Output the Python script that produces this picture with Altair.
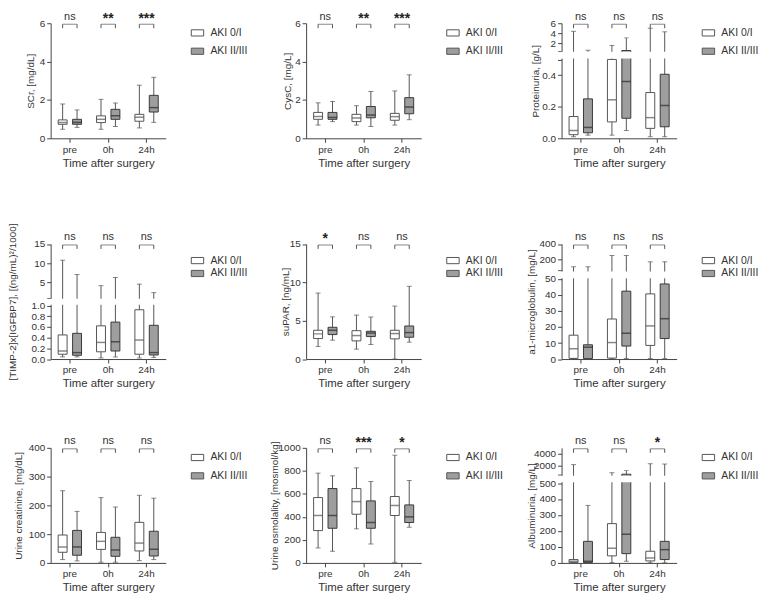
import altair as alt
import pandas as pd

times = ["pre", "0h", "24h"]
groups = ["AKI 0/I", "AKI II/III"]

# Box statistics, order: pre 0/I, pre II/III, 0h 0/I, 0h II/III, 24h 0/I, 24h II/III
scr_lo = [0.47, 0.57, 0.47, 0.61, 0.54, 0.83]
scr_q1 = [0.73, 0.73, 0.82, 0.99, 0.89, 1.37]
scr_med = [0.83, 0.83, 0.99, 1.17, 1.10, 1.60]
scr_q3 = [0.96, 0.99, 1.17, 1.51, 1.25, 2.24]
scr_hi = [1.79, 1.48, 2.03, 1.84, 2.77, 3.18]
scr_sig = ["ns", "**", "***"]
scr_ticks = [0, 2, 4, 6]
scr_labels = ["0", "2", "4", "6"]

cys_lo = [0.69, 0.87, 0.69, 0.62, 0.69, 0.97]
cys_q1 = [0.99, 0.99, 0.87, 1.07, 0.94, 1.28]
cys_med = [1.14, 1.09, 1.06, 1.21, 1.13, 1.63]
cys_q3 = [1.35, 1.35, 1.25, 1.66, 1.30, 2.12]
cys_hi = [1.85, 1.92, 1.70, 2.44, 2.47, 3.31]
cys_sig = ["ns", "**", "***"]
cys_ticks = [0, 2, 4, 6]
cys_labels = ["0", "2", "4", "6"]

prot_lo = [0.01, 0.02, 0.02, 0.05, 0.01, 0.01]
prot_q1 = [0.023, 0.035, 0.104, 0.127, 0.063, 0.073]
prot_med = [0.05, 0.069, 0.244, 0.36, 0.131, 0.208]
prot_q3 = [0.138, 0.25, 0.5, 0.6, 0.29, 0.406]
prot_hi = [4.4, 0.65, 1.6, 3.1, 5.0, 4.3]
prot_sig = ["ns", "ns", "ns"]
prot_ticks = [0, 0.2, 0.4, 0.5, 0.50001, 2, 4, 6]
prot_labels = ["0.0", "0.2", "0.4", "", "", "2", "4", "6"]

timp_lo = [0.04, 0.04, 0.02, 0.04, 0.02, 0.03]
timp_q1 = [0.09, 0.07, 0.135, 0.15, 0.09, 0.075]
timp_med = [0.15, 0.12, 0.31, 0.325, 0.355, 0.12]
timp_q3 = [0.45, 0.48, 0.62, 0.69, 0.92, 0.63]
timp_hi = [10.8, 7.1, 4.2, 6.3, 4.6, 2.4]
timp_sig = ["ns", "ns", "ns"]
timp_ticks = [0, 0.2, 0.4, 0.6, 0.8, 1, 1.0001, 5, 10, 15]
timp_labels = ["0.0", "0.2", "0.4", "0.6", "0.8", "1.0", "", "5", "10", "15"]

supar_lo = [1.64, 2.46, 1.29, 1.9, 0.0, 2.2]
supar_q1 = [2.67, 3.19, 2.37, 2.93, 2.63, 2.84]
supar_med = [3.28, 3.75, 3.06, 3.4, 3.32, 3.45]
supar_q3 = [3.75, 4.14, 3.7, 3.62, 3.75, 4.31]
supar_hi = [8.6, 5.5, 5.73, 5.47, 6.9, 9.48]
supar_sig = ["*", "ns", "ns"]
supar_ticks = [0, 5, 10, 15]
supar_labels = ["0", "5", "10", "15"]

a1m_lo = [0.3, 0.3, 0.3, 0.3, 0.3, 0.3]
a1m_q1 = [0.4, 0.3, 0.6, 8.1, 8.5, 12.8]
a1m_med = [6.4, 7.4, 10.3, 16.1, 20.7, 25.2]
a1m_q3 = [14.9, 8.9, 25.0, 42.4, 40.7, 46.9]
a1m_hi = [100, 100, 248, 248, 165, 165]
a1m_sig = ["ns", "ns", "ns"]
a1m_ticks = [0, 10, 20, 30, 40, 50, 50.001, 200, 400]
a1m_labels = ["0", "10", "20", "30", "40", "50", "", "200", "400"]

ucr_lo = [11.6, 7, 2.3, 2, 8, 11.6]
ucr_q1 = [37, 26.6, 47, 23, 41.6, 24]
ucr_med = [55.5, 55.5, 75, 45, 69, 47.4]
ucr_q3 = [97, 113, 106, 89, 141, 110]
ucr_hi = [251, 179, 227, 194, 235, 225]
ucr_sig = ["ns", "ns", "ns"]
ucr_ticks = [0, 100, 200, 300, 400]
ucr_labels = ["0", "100", "200", "300", "400"]

uos_lo = [130, 101, 296, 165, 5, 310]
uos_q1 = [281, 301, 423, 301, 412, 351]
uos_med = [412, 412, 533, 351, 499, 400]
uos_q3 = [568, 646, 646, 539, 577, 504]
uos_hi = [780, 757, 826, 707, 936, 716]
uos_sig = ["ns", "***", "*"]
uos_ticks = [0, 200, 400, 600, 800, 1000]
uos_labels = ["0", "200", "400", "600", "800", "1000"]

alb_lo = [0.5, 0.5, 2, 10, 0.5, 0.5]
alb_q1 = [2, 2, 44, 58, 12.5, 21]
alb_med = [10, 10.4, 92, 179, 31, 83]
alb_q3 = [21, 135, 246, 600, 73, 135]
alb_hi = [2200, 360, 850, 1200, 2350, 2300]
alb_sig = ["ns", "ns", "*"]
alb_ticks = [0, 100, 200, 300, 400, 500, 500.01, 2000, 4000]
alb_labels = ["0", "100", "200", "300", "400", "500", "", "2000", "4000"]

# ---------------- layout / style ----------------
W = 116
H = 116
ROW_OFFSET = [0, 17.5, 0]
LEGEND_Y = [2.75, 9.75, 2.75]
LEGEND_ROWPAD = [5.5, -2, 5.5]
NARROW = "Liberation Sans Narrow, Arial Narrow, Liberation Sans, Arial, sans-serif"
REG = "Liberation Sans, Arial, sans-serif"
LINE = "#555555"
DARK = "#3a3a3a"
TXT = "#333333"
GRAY_FILL = "#9e9e9e"

panels = [
    dict(title="SCr, [mg/dL]", d=(scr_lo, scr_q1, scr_med, scr_q3, scr_hi), sig=scr_sig,
         ticks=scr_ticks, labels=scr_labels, domain=[0, 6], rng=[H, 0], gap=None, tx=-20),
    dict(title="CysC, [mg/L]", d=(cys_lo, cys_q1, cys_med, cys_q3, cys_hi), sig=cys_sig,
         ticks=cys_ticks, labels=cys_labels, domain=[0, 6], rng=[H, 0], gap=None, tx=-19),
    dict(title="Proteinuria, [g/L]", d=(prot_lo, prot_q1, prot_med, prot_q3, prot_hi), sig=prot_sig,
         ticks=prot_ticks, labels=prot_labels, domain=[0, 0.5, 0.50001, 6], rng=[H, 36.5, 28, 0],
         gap=(0.500001, 0.500009), tx=-26),
    dict(title="[TIMP-2]x[IGFBP7], [(ng/mL)²/1000]", d=(timp_lo, timp_q1, timp_med, timp_q3, timp_hi),
         sig=timp_sig, ticks=timp_ticks, labels=timp_labels, domain=[0, 1, 1.0001, 15],
         rng=[H, 62, 54.5, 0], gap=(1.00001, 1.00009), tx=-38),
    dict(title="suPAR, [ng/mL]", d=(supar_lo, supar_q1, supar_med, supar_q3, supar_hi), sig=supar_sig,
         ticks=supar_ticks, labels=supar_labels, domain=[0, 15], rng=[H, 0], gap=None, tx=-21),
    dict(title="a1-microglobulin, [mg/L]", d=(a1m_lo, a1m_q1, a1m_med, a1m_q3, a1m_hi), sig=a1m_sig,
         ticks=a1m_ticks, labels=a1m_labels, domain=[0, 50, 50.001, 400], rng=[H, 35.3, 26.8, 0],
         gap=(50.0001, 50.0009), tx=-30),
    dict(title="Urine creatinine, [mg/dL]", d=(ucr_lo, ucr_q1, ucr_med, ucr_q3, ucr_hi), sig=ucr_sig,
         ticks=ucr_ticks, labels=ucr_labels, domain=[0, 400], rng=[H, 0], gap=None, tx=-32),
    dict(title="Urine osmolality, [mosmol/kg]", d=(uos_lo, uos_q1, uos_med, uos_q3, uos_hi), sig=uos_sig,
         ticks=uos_ticks, labels=uos_labels, domain=[0, 1000], rng=[H, 0], gap=None, tx=-32),
    dict(title="Albuminuria, [mg/L]", d=(alb_lo, alb_q1, alb_med, alb_q3, alb_hi), sig=alb_sig,
         ticks=alb_ticks, labels=alb_labels, domain=[0, 500, 500.01, 5000], rng=[H, 35.5, 27.2, 0],
         gap=(500.001, 500.009), tx=-30),
]


def js_num(v):
    v = float(v)
    return str(int(v)) if v.is_integer() else repr(v)


def label_expr(vals, labs):
    expr = "''"
    for v, l in reversed(list(zip(vals, labs))):
        expr = f"datum.value == {js_num(v)} ? '{l}' : ({expr})"
    return expr


def make_panel(p, row):
    o = ROW_OFFSET[row]
    lo, q1, med, q3, hi = p["d"]
    stats = pd.DataFrame({
        "time": [t for t in times for g in groups],
        "group": [g for t in times for g in groups],
        "lo": lo, "q1": q1, "med": med, "q3": q3, "hi": hi,
    })
    sigdf = pd.DataFrame({"time": times, "sig": p["sig"]})

    yscale = alt.Scale(domain=p["domain"], range=[r + o for r in p["rng"]], nice=False, zero=False)
    yaxis = alt.Axis(values=p["ticks"], labelExpr=label_expr(p["ticks"], p["labels"]),
                     title=p["title"], titleX=p["tx"], titleBaseline="middle",
                     labelOverlap=False, grid=False)

    def Y(field):
        return alt.Y(field, type="quantitative", scale=yscale, axis=yaxis)

    xaxis = alt.Axis(title="Time after surgery", labelAngle=0, grid=False)
    xenc = alt.X("time:N", scale=alt.Scale(domain=times, paddingInner=0, paddingOuter=0), axis=xaxis)
    xoff = alt.XOffset("group:N", scale=alt.Scale(domain=groups, paddingInner=0.38, paddingOuter=0.52))
    is_low = alt.datum.group == groups[0]

    base = alt.Chart(stats)
    whisk = base.mark_rule(color=LINE, strokeWidth=1).encode(x=xenc, xOffset=xoff, y=Y("lo"), y2="hi")
    cap_hi = base.mark_tick(orient="horizontal", size=5, thickness=1, color=LINE).encode(
        x=xenc, xOffset=xoff, y=Y("hi"))
    cap_lo = base.mark_tick(orient="horizontal", size=5, thickness=1, color=LINE).encode(
        x=xenc, xOffset=xoff, y=Y("lo"))
    box = base.mark_bar(strokeWidth=1).encode(
        x=xenc, xOffset=xoff, y=Y("q1"), y2="q3",
        fill=alt.Fill("group:N", scale=alt.Scale(domain=groups, range=["#ffffff", GRAY_FILL]),
                      legend=alt.Legend(title=None, orient="none", legendX=141,
                                        legendY=o + LEGEND_Y[row],
                                        symbolType="M-1,-0.5H1V0.5H-1Z", symbolSize=156,
                                        symbolStrokeColor=LINE, symbolStrokeWidth=1,
                                        labelFontSize=10.5, labelFont=NARROW, labelColor=TXT,
                                        labelOffset=6, rowPadding=LEGEND_ROWPAD[row], padding=0)),
        stroke=alt.condition(is_low, alt.value(LINE), alt.value(DARK)),
    )
    median = base.mark_tick(orient="horizontal", size=9, thickness=1.5).encode(
        x=xenc, xOffset=xoff, y=Y("med"),
        color=alt.condition(is_low, alt.value(LINE), alt.value("#2a2a2a")),
    )
    layers = [whisk, box, median, cap_hi, cap_lo]

    if p["gap"] is not None:
        mask = alt.Chart(pd.DataFrame({"k": [0]})).mark_rect(color="white").encode(
            x=alt.value(-6), x2=alt.value(W + 2),
            y=alt.Y(datum=p["gap"][0], type="quantitative", scale=yscale, axis=yaxis),
            y2=alt.Y2(datum=p["gap"][1]),
        )
        layers.append(mask)

    sbase = alt.Chart(sigdf)
    bracket = sbase.mark_tick(orient="horizontal", size=14.5, thickness=1, color=LINE).encode(
        x=xenc, y=alt.value(o + 1))
    legs = base.mark_rule(color=LINE, strokeWidth=1).encode(
        x=xenc, xOffset=xoff, y=alt.value(o + 1), y2=alt.value(o + 5))
    ns = sbase.transform_filter("datum.sig == 'ns'").mark_text(
        font=NARROW, fontSize=11, color=TXT, baseline="alphabetic").encode(
        x=xenc, y=alt.value(o - 3.5), text="sig:N")
    stars = sbase.transform_filter("datum.sig != 'ns'").mark_text(
        font=REG, fontSize=14, fontWeight="bold", color="#222222", baseline="alphabetic").encode(
        x=xenc, y=alt.value(o - 0.5), text="sig:N")
    layers += [bracket, legs, ns, stars]

    return alt.layer(*layers).properties(width=W, height=H + o)


charts = [make_panel(p, i // 3) for i, p in enumerate(panels)]

chart = alt.concat(
    *charts, columns=3, spacing={"row": 89, "column": 141.5}, bounds="flush"
).resolve_scale(fill="independent").resolve_legend(fill="independent").properties(
    padding={"top": 0, "left": -1, "right": 0, "bottom": 0}
).configure(font=NARROW).configure_view(stroke=None).configure_axis(
    domainColor="#444444", tickColor="#444444", labelColor=TXT, titleColor=TXT,
    labelFont=NARROW, labelFontSize=10, tickSize=4, labelPadding=2, titleFontWeight="normal",
).configure_axisY(titleFont=REG, titleFontSize=10).configure_axisX(
    titleFont=NARROW, titleFontSize=11.5, titlePadding=3)

chart.save("out.html", embed_options={"renderer": "svg", "actions": False})
